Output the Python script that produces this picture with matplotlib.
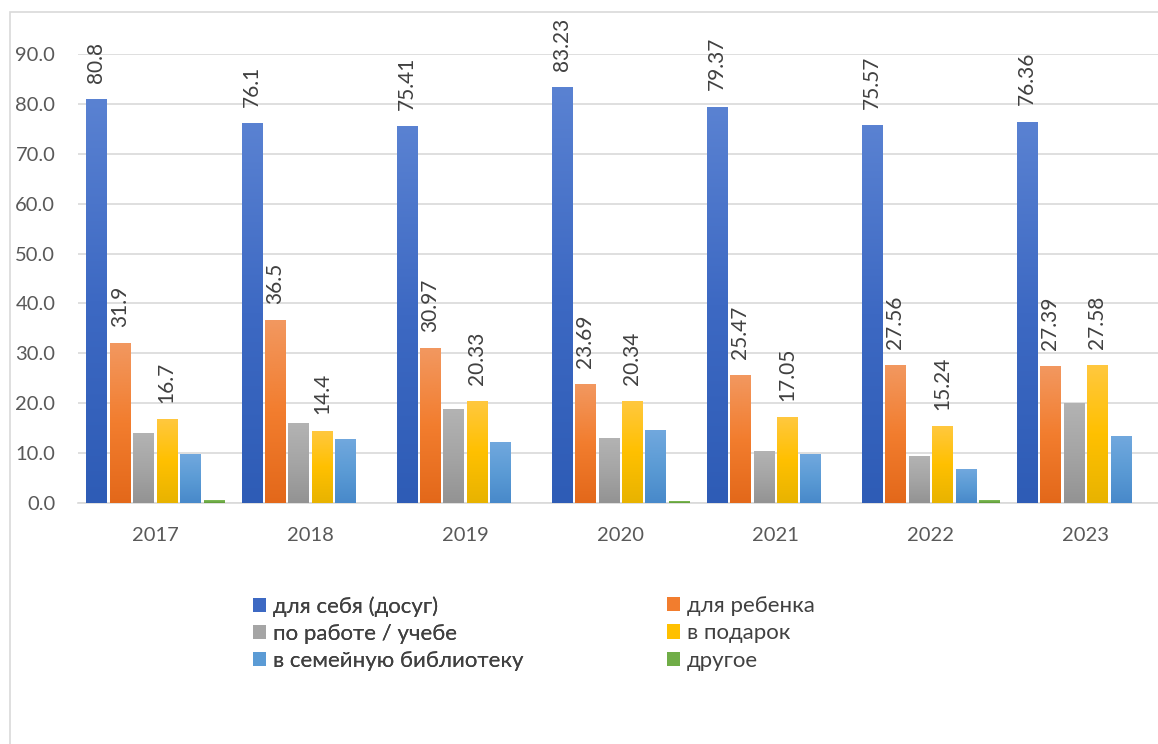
import numpy as np
import matplotlib
matplotlib.use("Agg")
import matplotlib.pyplot as plt
from matplotlib.patches import Rectangle, Patch
from matplotlib.colors import LinearSegmentedColormap

plt.rcParams['font.family'] = ['Lato', 'DejaVu Sans']

# -----------------------------
# DATA
# -----------------------------
years = ["2017", "2018", "2019", "2020", "2021", "2022", "2023"]
series_names = ["для себя (досуг)", "для ребенка", "по работе / учебе",
                "в подарок", "в семейную библиотеку", "другое"]
leisure = [80.8, 76.1, 75.41, 83.23, 79.37, 75.57, 76.36]
child = [31.9, 36.5, 30.97, 23.69, 25.47, 27.56, 27.39]
work = [14.0, 16.0, 18.8, 13.0, 10.4, 9.4, 20.0]
gift = [16.7, 14.4, 20.33, 20.34, 17.05, 15.24, 27.58]
family_lib = [9.8, 12.8, 12.2, 14.6, 9.8, 6.8, 13.4]
other = [0.6, 0.0, 0.0, 0.3, 0.0, 0.6, 0.0]

series = [leisure, child, work, gift, family_lib, other]
show_labels = [True, True, False, True, False, False]

# gradient colours (top, middle, bottom)
grads = [
    ("#5A82D2", "#3D69C3", "#2E5CB6"),
    ("#F29860", "#F27D2E", "#E3681A"),
    ("#B3B3B3", "#A5A5A5", "#939393"),
    ("#FFC83F", "#FFC000", "#E8B300"),
    ("#71A8DE", "#5B9BD5", "#4889CA"),
    ("#82BD5A", "#70AD47", "#5E9A37"),
]

# -----------------------------
# FIGURE
# -----------------------------
W, H = 1158, 744
fig = plt.figure(figsize=(W / 100, H / 100), dpi=100)

# outer chart frame
fig.patches.append(Rectangle((10 / W, -0.05), 1.2, 1 - 12 / H + 0.05,
                             transform=fig.transFigure, fill=False,
                             edgecolor="#D9D9D9", lw=1.2))

left = 77.5 / W
width = 1085.5 / W
bottom = (H - 503) / H
top = (H - 54) / H
ax = fig.add_axes([left, bottom, width, top - bottom])

x = np.arange(len(years))
bar_w = 0.129
pitch = 0.151
offsets = (np.arange(6) - 2.5) * pitch

grad_img = np.linspace(0, 1, 256).reshape(-1, 1)
for i, vals in enumerate(series):
    cmap = LinearSegmentedColormap.from_list("g%d" % i, list(grads[i]))
    for xi, v in zip(x + offsets[i], vals):
        if v <= 0:
            continue
        # soft shadow
        ax.add_patch(Rectangle((xi - bar_w / 2 + 0.006, 0), bar_w, v - 0.3,
                               facecolor="#000000", alpha=0.10, lw=0, zorder=2))
        ax.imshow(grad_img, cmap=cmap, aspect="auto", zorder=3,
                  extent=(xi - bar_w / 2, xi + bar_w / 2, 0, v),
                  interpolation="bilinear")
        if show_labels[i]:
            ax.annotate(f"{v:g}", (xi, v), xytext=(0, 12), textcoords="offset points",
                        rotation=90, ha="center", va="bottom", fontsize=15,
                        color="#404040", annotation_clip=False)

ax.set_xlim(-0.5, len(years) - 0.5)
ax.set_ylim(0, 90)

ax.set_yticks(np.arange(0, 91, 10))
ax.set_yticklabels([f"{t:.1f}" for t in np.arange(0, 91, 10)])
ax.set_xticks(x)
ax.set_xticklabels(years)
ax.tick_params(axis="both", length=0, labelsize=14.5, colors="#595959")
ax.tick_params(axis="y", pad=16)
ax.tick_params(axis="x", pad=17)
ax.grid(axis="y", color="#D9D9D9", lw=1.2, zorder=0)
ax.set_axisbelow(True)
for s in ["left", "right", "top"]:
    ax.spines[s].set_visible(False)
ax.spines["bottom"].set_color("#D9D9D9")
ax.spines["bottom"].set_linewidth(1.2)

handles = [Patch(facecolor=g[1], edgecolor="none") for g in grads]
leg_kw = dict(loc="upper left", frameon=False, fontsize=16, labelcolor="#404040",
              handlelength=0.6, handleheight=0.6, handletextpad=0.3,
              labelspacing=0.33, borderaxespad=0, borderpad=0)
leg1 = fig.legend([handles[k] for k in (0, 2, 4)], [series_names[k] for k in (0, 2, 4)],
                  bbox_to_anchor=(253 / W, 1 - 596 / H), **leg_kw)
fig.legend([handles[k] for k in (1, 3, 5)], [series_names[k] for k in (1, 3, 5)],
           bbox_to_anchor=(667 / W, 1 - 596 / H), **leg_kw)
fig.add_artist(leg1)

fig.savefig("out.png", dpi=100)
